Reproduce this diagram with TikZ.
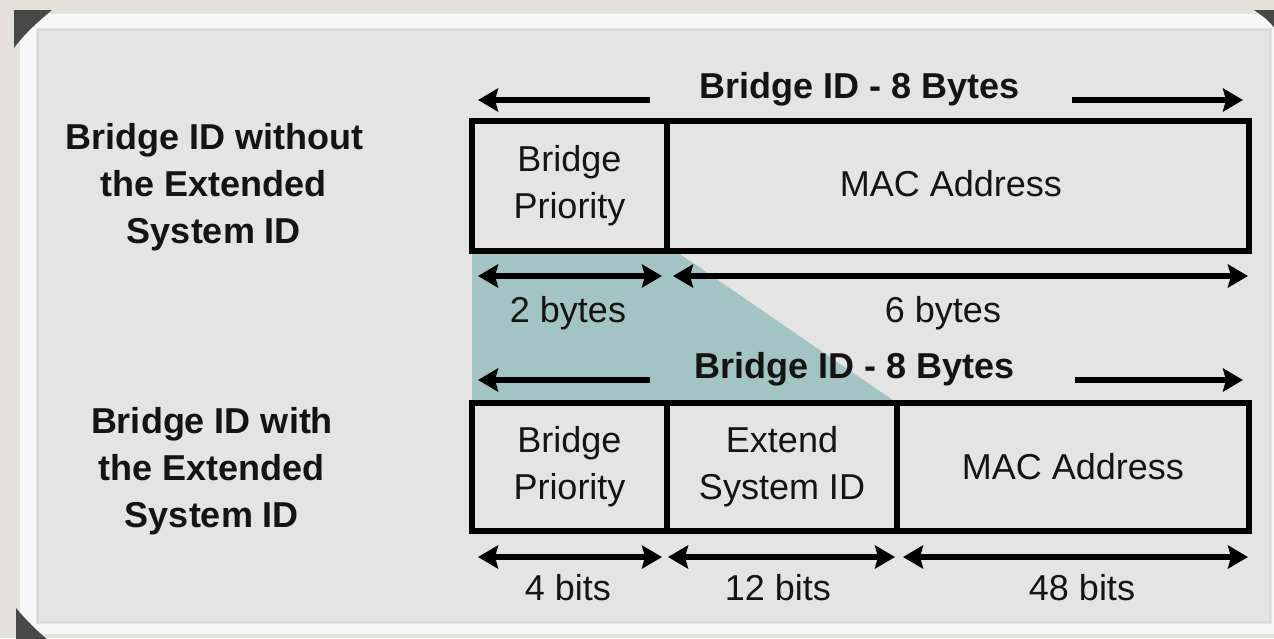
\documentclass[tikz,border=0pt]{standalone}
\usepackage{fontspec}
\setmainfont{Liberation Sans}
\usetikzlibrary{arrows.meta}
\definecolor{outerbg}{RGB}{226,226,218}
\definecolor{framew}{RGB}{247,247,247}
\definecolor{panel}{RGB}{228,228,228}
\definecolor{tealfill}{RGB}{164,196,196}
\definecolor{cornerc}{RGB}{72,72,72}
\definecolor{ink}{RGB}{20,20,20}
\begin{document}
\begin{tikzpicture}[x=0.5pt,y=-0.5pt,
  lbl/.style={font=\fontsize{18pt}{23.5pt}\selectfont, text=ink, inner sep=0pt},
  boldlbl/.style={font=\fontsize{18pt}{23.5pt}\selectfont\bfseries, text=ink, inner sep=0pt},
  cell/.style={draw=black, line width=2.7pt, inner sep=0pt, outer sep=0pt, align=center,
    font=\fontsize{18pt}{23.5pt}\selectfont, text=ink},
  arr/.style={line width=2.6pt, -{Stealth[length=10pt,width=11.5pt,inset=1.5pt]}},
  darr/.style={line width=2.6pt, {Stealth[length=10pt,width=11.5pt,inset=1.5pt]}-{Stealth[length=10pt,width=11.5pt,inset=1.5pt]}}]
\useasboundingbox (0,0) rectangle (1274,638);
\clip (0,0) rectangle (1274,638);
% background and panel
\fill[outerbg] (0,0) rectangle (1274,638);
\fill[framew] (20,14) rectangle (1290,634);
\fill[panel] (36,28) rectangle (1272,624);
\draw[black!15, line width=0.6pt] (38,30) rectangle (1270,622);
% dark corners
\fill[cornerc] (14,10) -- (52,10) .. controls (40,20) and (26,32) .. (14,48) -- cycle;
\fill[cornerc] (16,608) .. controls (26,620) and (36,630) .. (48,640) -- (16,640) -- cycle;
\fill[cornerc] (1254,10) -- (1276,10) -- (1276,30) .. controls (1268,20) .. (1254,10) -- cycle;
% teal band
\fill[tealfill] (472,252) -- (677,252) -- (897,403) -- (472,403) -- cycle;
% top structure
\node[cell, minimum width=97.5pt, minimum height=65pt] (bp1) at (569.5,186) {Bridge\\Priority};
\node[cell, minimum width=291pt, minimum height=65pt, anchor=west] (mac1) at (bp1.east) {};
\node[lbl] (mac1t) at (951,184) {MAC Address};
% bottom structure
\node[cell, minimum width=97.5pt, minimum height=64pt] (bp2) at (569.5,467) {Bridge\\Priority};
\node[cell, minimum width=115pt, minimum height=64pt, anchor=west] (ext2) at (bp2.east) {Extend\\System ID};
\node[cell, minimum width=176pt, minimum height=64pt, anchor=west] (mac2) at (ext2.east) {MAC Address};
% titles
\node[boldlbl, anchor=base] (t1) at (860,98) {Bridge ID - 8 Bytes};
\node[boldlbl, anchor=base] (t2) at (855,378) {Bridge ID - 8 Bytes};
% left labels
\node[boldlbl, align=center] (l1) at (214,187) {Bridge ID without\\the Extended\\System ID};
\node[boldlbl, align=center] (l2) at (212,471) {Bridge ID with\\the Extended\\System ID};
% row 1 arrows
\coordinate (r1a) at (650,100); \coordinate (r1b) at (478,100);
\coordinate (r1c) at (1072,100); \coordinate (r1d) at (1243,100);
\draw[arr] (r1a) -- (r1b);
\draw[arr] (r1c) -- (r1d);
% row 2
\coordinate (r2a) at (478,276); \coordinate (r2b) at (662,276);
\coordinate (r2c) at (673,276); \coordinate (r2d) at (1248,276);
\draw[darr] (r2a) -- (r2b);
\draw[darr] (r2c) -- (r2d);
\node[lbl, anchor=base] (b2) at (568,322) {2 bytes};
\node[lbl, anchor=base] (b6) at (943,322) {6 bytes};
% row 3
\coordinate (r3a) at (650,380); \coordinate (r3b) at (478,380);
\coordinate (r3c) at (1075,380); \coordinate (r3d) at (1243,380);
\draw[arr] (r3a) -- (r3b);
\draw[arr] (r3c) -- (r3d);
% row 4
\coordinate (r4a) at (478,557); \coordinate (r4b) at (662,557);
\coordinate (r4c) at (668,557); \coordinate (r4d) at (895,557);
\coordinate (r4e) at (903,557); \coordinate (r4f) at (1248,557);
\draw[darr] (r4a) -- (r4b);
\draw[darr] (r4c) -- (r4d);
\draw[darr] (r4e) -- (r4f);
\node[lbl, anchor=base] (w4) at (568,600) {4 bits};
\node[lbl, anchor=base] (w12) at (778,600) {12 bits};
\node[lbl, anchor=base] (w48) at (1082,600) {48 bits};
\end{tikzpicture}
\end{document}
